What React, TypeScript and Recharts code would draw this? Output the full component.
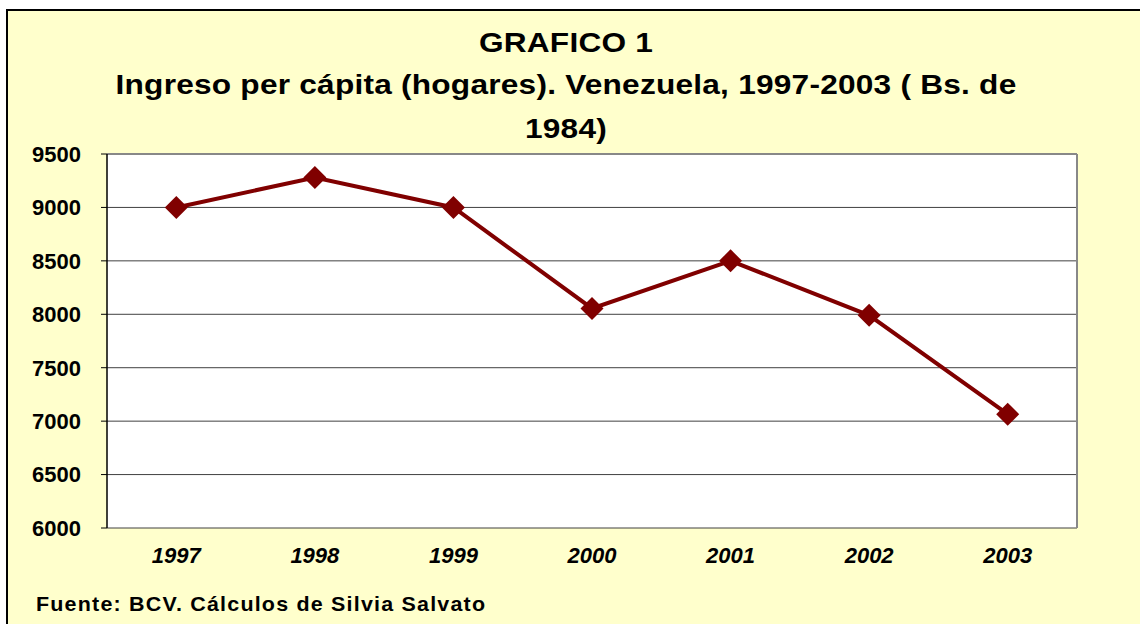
import { LineChart, Line, XAxis, YAxis, CartesianGrid, ReferenceLine } from 'recharts';

const years = ['1997', '1998', '1999', '2000', '2001', '2002', '2003'];
const ingreso = [9000, 9280, 9000, 8055, 8500, 7990, 7065];
const yTicks = [6000, 6500, 7000, 7500, 8000, 8500, 9000, 9500];

const titleLines = ['GRAFICO 1', 'Ingreso per cápita (hogares). Venezuela, 1997-2003 ( Bs. de', '1984)'];
const fuente = 'Fuente: BCV. Cálculos de Silvia Salvato';

// each year sits in the middle of its slot, tick marks fall on the slot edges
const data = years.map((year, i) => ({ pos: i + 0.5, year, ingreso: ingreso[i] }));
const edgeTicks = [...years.map((_, i) => i), years.length];
const labelTicks = data.map((d) => d.pos);

const font = "'Liberation Sans', Arial, sans-serif";
const titleBaselines = [52, 94, 138];

function Diamond(props: any) {
  const { cx, cy } = props;
  if (cx == null || cy == null) return null;
  const r = 11.5;
  return (
    <path
      d={`M${cx},${cy - r}L${cx + r},${cy}L${cx},${cy + r}L${cx - r},${cy}Z`}
      fill="#800000"
    />
  );
}

export default function App() {
  return (
    <div style={{ position: 'relative', width: 1140, height: 624, overflow: 'hidden', background: '#fff', fontFamily: font }}>
      <style>{'body{margin:0}'}</style>
      <div
        style={{
          position: 'absolute',
          left: 6,
          top: 9,
          right: 0,
          bottom: 0,
          background: '#FFFFCC',
          borderLeft: '2px solid #000',
          borderTop: '2px solid #000',
        }}
      />
      <div style={{ position: 'absolute', left: 0, top: 0 }}>
        <LineChart
          width={1140}
          height={624}
          data={data}
          margin={{ top: 154, right: 63, left: 27, bottom: 56 }}
        >
          <CartesianGrid
            xAxisId="labels"
            vertical={false}
            fill="#fff"
            stroke="#404040"
            strokeWidth={1}
          />
          <XAxis
            xAxisId="edges"
            dataKey="pos"
            type="number"
            domain={[0, years.length]}
            ticks={edgeTicks}
            height={0}
            tick={false}
            tickSize={6}
            axisLine={{ stroke: '#000', strokeWidth: 1.5 }}
            tickLine={{ stroke: '#000', strokeWidth: 1 }}
          />
          <XAxis
            xAxisId="labels"
            dataKey="pos"
            type="number"
            domain={[0, years.length]}
            ticks={labelTicks}
            tickFormatter={(v: number) => years[Math.floor(v)]}
            height={40}
            tickLine={false}
            axisLine={false}
            tickMargin={13}
            tick={{ fill: '#000', fontSize: 22, fontWeight: 'bold', fontStyle: 'italic', fontFamily: font }}
          />
          <YAxis
            domain={[6000, 9500]}
            ticks={yTicks}
            width={80}
            tickSize={6}
            tickMargin={20}
            axisLine={{ stroke: '#000', strokeWidth: 1.5 }}
            tickLine={{ stroke: '#000' }}
            tick={{ fill: '#000', fontSize: 22, fontWeight: 'bold', fontFamily: font }}
          />
          <ReferenceLine xAxisId="labels" y={9500} stroke="#888" strokeWidth={2} />
          <ReferenceLine xAxisId="labels" x={years.length} stroke="#888" strokeWidth={2} />
          <Line
            xAxisId="labels"
            type="linear"
            dataKey="ingreso"
            stroke="#800000"
            strokeWidth={4}
            dot={<Diamond />}
            activeDot={false}
            isAnimationActive={false}
          />
        </LineChart>
      </div>
      <svg width={1140} height={624} style={{ position: 'absolute', left: 0, top: 0, pointerEvents: 'none' }}>
        {titleLines.map((line, i) => (
          <text
            key={i}
            transform={`translate(566,${titleBaselines[i]}) scale(1.13,1)`}
            textAnchor="middle"
            fontFamily={font}
            fontWeight="bold"
            fontSize={28}
            letterSpacing={0.2}
            fill="#000"
          >
            {line}
          </text>
        ))}
        <text
          transform="translate(36,611) scale(1.1,1)"
          fontFamily={font}
          fontWeight="bold"
          fontSize={19.5}
          letterSpacing={1.1}
          fill="#000"
        >
          {fuente}
        </text>
      </svg>
    </div>
  );
}
